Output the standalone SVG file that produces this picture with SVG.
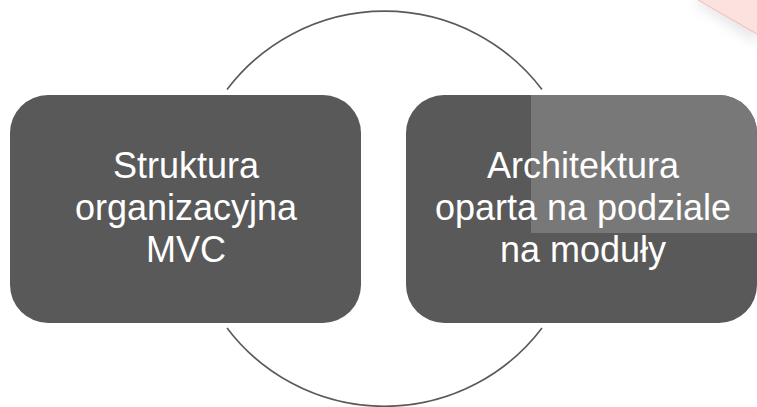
<svg xmlns="http://www.w3.org/2000/svg" width="757" height="407" viewBox="0 0 757 407">
<style>
.box{fill:#595959}
.lbl{font-family:"Liberation Sans","Noto Sans",Arial,sans-serif;font-size:36px;fill:#ffffff;text-anchor:middle}
.arc{fill:none;stroke:#595959;stroke-width:1.6}
</style>
<defs>
<filter id="soft" x="-50%" y="-50%" width="200%" height="200%"><feGaussianBlur stdDeviation="6"/></filter>
<clipPath id="rclip"><rect x="406" y="95" width="351" height="228" rx="38" ry="38"/></clipPath>
</defs>
<g id="decor">
<polygon points="690,0 757,0 757,44" fill="#d8d8d8" opacity="0.6" filter="url(#soft)"/>
<polygon points="698,0 757,0 757,34" fill="#fbe2de"/>
<polyline points="698,0 757,34" fill="none" stroke="#f6c4c0" stroke-width="1.2"/>
</g>
<g id="connectors">
<path class="arc" d="M227,89.5 A197.5,197.5 0 0 1 542,89.5"/>
<path class="arc" d="M227,328 A197.5,197.5 0 0 0 542,328"/>
</g>
<g id="node1">
<rect class="box" x="10" y="95" width="351" height="228" rx="38" ry="38"/>
<text class="lbl" x="186" y="178">Struktura</text>
<text class="lbl" x="186" y="220">organizacyjna</text>
<text class="lbl" x="186" y="262">MVC</text>
</g>
<g id="node2">
<rect class="box" x="406" y="95" width="351" height="228" rx="38" ry="38"/>
<rect x="531" y="95" width="226" height="138" fill="#787878" clip-path="url(#rclip)"/>
<text class="lbl" x="583" y="178">Architektura</text>
<text class="lbl" x="583" y="220">oparta na podziale</text>
<text class="lbl" x="583" y="262">na moduły</text>
</g>
</svg>
